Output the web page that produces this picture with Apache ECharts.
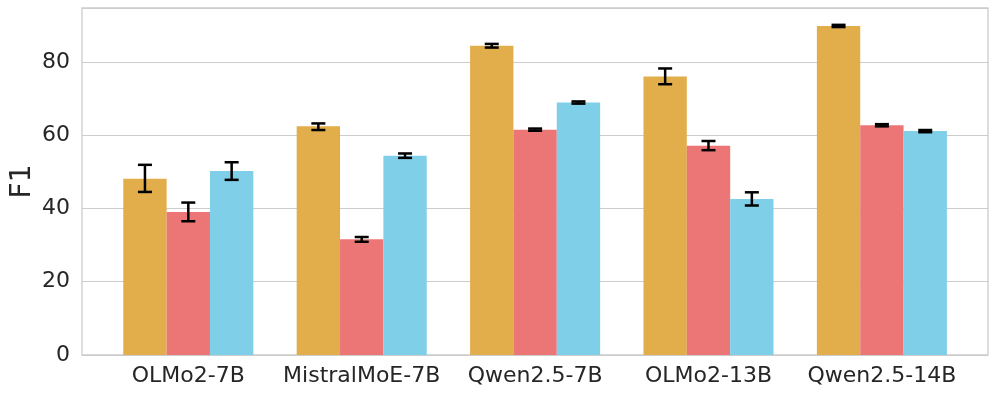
<!DOCTYPE html>
<html>
<head>
<meta charset="utf-8">
<script src="https://cdn.jsdelivr.net/npm/echarts@6/dist/echarts.min.js"></script>
<style>html,body{margin:0;padding:0;background:#fff;}#c{width:997px;height:397px;}</style>
</head>
<body>
<div id="c"></div>
<script>
const categories = ['OLMo2-7B', 'MistralMoE-7B', 'Qwen2.5-7B', 'OLMo2-13B', 'Qwen2.5-14B'];
const yTicks = [0, 20, 40, 60, 80];
const valuesA = [48.1, 62.4, 84.4, 76.0, 89.8];
const valuesB = [39.0, 31.6, 61.5, 57.1, 62.7];
const valuesC = [50.2, 54.4, 68.9, 42.6, 61.1];
const errLowA = [44.5, 61.4, 83.9, 73.9, 89.5];
const errHighA = [51.9, 63.2, 84.9, 78.2, 90.1];
const errLowB = [36.5, 30.9, 61.2, 55.9, 62.4];
const errHighB = [41.6, 32.2, 61.8, 58.4, 63.0];
const errLowC = [47.8, 53.8, 68.6, 40.8, 60.8];
const errHighC = [52.6, 55.0, 69.2, 44.4, 61.4];

const colors = ['#e2ae4b', '#ec7676', '#7fcfe8'];
const yMax = 94.7;
const font = 'DejaVu Sans';

const chart = echarts.init(document.getElementById('c'), null, {renderer: 'canvas'});

function errSeries(idx, lows, highs) {
  return {
    type: 'custom',
    xAxisIndex: 1, yAxisIndex: 1,
    z: 10,
    data: categories.map((c, i) => [i, lows[i], highs[i]]),
    renderItem: function (params, api) {
      const band = api.size([1, 0])[0];
      const bw = band * 0.75 / 3;
      const off = (idx - 1) * bw;
      const lo = api.coord([api.value(0), api.value(1)]);
      const hi = api.coord([api.value(0), api.value(2)]);
      const x = lo[0] + off;
      const cap = 7;
      const style = {stroke: '#000', lineWidth: 2.5};
      return {
        type: 'group',
        children: [
          {type: 'line', shape: {x1: x, y1: lo[1], x2: x, y2: hi[1]}, style: style},
          {type: 'line', shape: {x1: x - cap, y1: lo[1], x2: x + cap, y2: lo[1]}, style: style},
          {type: 'line', shape: {x1: x - cap, y1: hi[1], x2: x + cap, y2: hi[1]}, style: style}
        ]
      };
    }
  };
}

const option = {
  animation: false,
  backgroundColor: '#ffffff',
  textStyle: {fontFamily: font},
  grid: [
    {left: 82, top: 8, width: 906, height: 347, show: true, borderColor: '#cccccc', borderWidth: 1.3, backgroundColor: 'transparent', containLabel: false, outerBoundsMode: 'none'},
    {left: 101.6, top: 8, width: 867, height: 347, containLabel: false, outerBoundsMode: 'none'}
  ],
  xAxis: [
    {type: 'value', gridIndex: 0, min: 0, max: 1, show: false},
    {
      type: 'category', gridIndex: 1, data: categories,
      axisLine: {show: false}, axisTick: {show: false}, splitLine: {show: false},
      axisLabel: {color: '#262626', fontSize: 22, fontFamily: font, margin: 10, interval: 0, hideOverlap: false}
    }
  ],
  yAxis: [
    {
      type: 'value', gridIndex: 0, min: 0, max: yMax, interval: 20,
      name: 'F1', nameLocation: 'middle', nameGap: 45, nameRotate: 90, nameMoveOverlap: false,
      nameTextStyle: {color: '#262626', fontSize: 28, fontFamily: font},
      axisLine: {show: false}, axisTick: {show: false},
      splitLine: {show: true, lineStyle: {color: '#cccccc', width: 1.2}},
      axisLabel: {
        color: '#262626', fontSize: 22, fontFamily: font, margin: 12,
        formatter: function (v) { return yTicks.indexOf(v) >= 0 ? String(v) : ''; }
      }
    },
    {type: 'value', gridIndex: 1, min: 0, max: yMax, show: false, splitLine: {show: false}}
  ],
  series: [
    {type: 'bar', xAxisIndex: 1, yAxisIndex: 1, data: valuesA, itemStyle: {color: colors[0]}, barGap: '0%', barCategoryGap: '25%'},
    {type: 'bar', xAxisIndex: 1, yAxisIndex: 1, data: valuesB, itemStyle: {color: colors[1]}, barGap: '0%', barCategoryGap: '25%'},
    {type: 'bar', xAxisIndex: 1, yAxisIndex: 1, data: valuesC, itemStyle: {color: colors[2]}, barGap: '0%', barCategoryGap: '25%'},
    errSeries(0, errLowA, errHighA),
    errSeries(1, errLowB, errHighB),
    errSeries(2, errLowC, errHighC)
  ]
};
chart.setOption(option);
</script>
</body>
</html>
